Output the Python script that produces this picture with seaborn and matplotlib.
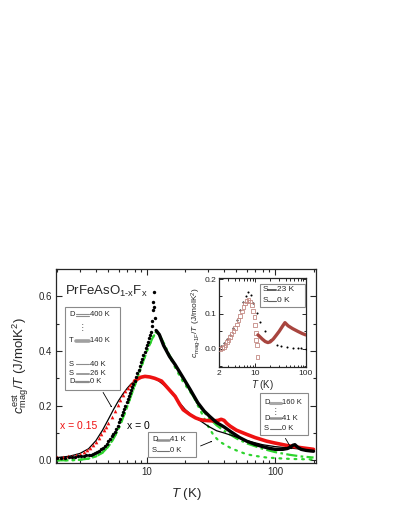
import numpy as np
import pandas as pd
import matplotlib
matplotlib.use("Agg")
import matplotlib.pyplot as plt
import seaborn as sns
from matplotlib.lines import Line2D
from matplotlib.patches import Rectangle, FancyArrowPatch
from matplotlib.ticker import LogLocator, FuncFormatter, MultipleLocator, NullFormatter, FormatStrFormatter

# ---------------- data ----------------
# x = 0 : dots below ~12 K
T0_dots = [2.0, 2.15, 2.3, 2.45, 2.6, 2.75, 2.9, 3.05, 3.2, 3.35, 3.5, 3.65, 3.8, 3.95, 4.1, 4.25,
           4.4, 4.55, 4.7, 4.85, 5.0, 5.15, 5.3, 5.45, 5.6, 5.75, 5.9, 6.05, 6.2, 6.35, 6.5, 6.65,
           6.8, 6.95, 7.1, 7.25, 7.4, 7.55, 7.7, 7.85, 8.0, 8.2, 8.4, 8.6, 8.8, 9.0, 9.2, 9.4, 9.6,
           9.8, 10.0, 10.2, 10.4, 10.6, 10.8, 10.9, 11.0, 11.1, 11.2, 11.3, 11.45, 11.6]
c0_dots = [0.008, 0.009, 0.010, 0.011, 0.012, 0.013, 0.014, 0.015, 0.016, 0.018, 0.019, 0.021,
           0.023, 0.026, 0.030, 0.034, 0.040, 0.046, 0.053, 0.061, 0.069, 0.078, 0.087, 0.096,
           0.105, 0.115, 0.127, 0.140, 0.152, 0.164, 0.176, 0.188, 0.200, 0.212, 0.224, 0.236,
           0.247, 0.258, 0.269, 0.280, 0.290, 0.304, 0.318, 0.332, 0.345, 0.358, 0.371, 0.384,
           0.397, 0.410, 0.422, 0.434, 0.446, 0.458, 0.470, 0.490, 0.510, 0.550, 0.580, 0.615,
           0.560, 0.520]
# x = 0 : dense data above ~12 K
T0_line = [11.8, 12.5, 13.5, 15, 16.6, 19, 21.7, 25, 28, 31, 35, 40, 45, 53, 60, 70, 80, 90, 100,
           115, 125, 132, 138, 143, 150, 160, 175, 200]
c0_line = [0.475, 0.46, 0.42, 0.38, 0.35, 0.305, 0.26, 0.21, 0.18, 0.16, 0.138, 0.122, 0.105,
           0.083, 0.07, 0.058, 0.05, 0.044, 0.04, 0.04, 0.043, 0.048, 0.055, 0.057, 0.048, 0.04,
           0.036, 0.033]
# x = 0.15 : triangles at low T
T15_tri = [2.0, 2.2, 2.4, 2.6, 2.8, 3.0, 3.2, 3.4, 3.6, 3.8, 4.0, 4.2, 4.4, 4.6, 4.8, 5.0, 5.3,
           5.6, 5.9, 6.2, 6.5, 6.8, 7.1, 7.4, 7.7]
c15_tri = [0.012, 0.013, 0.014, 0.016, 0.019, 0.023, 0.029, 0.036, 0.045, 0.056, 0.068, 0.081,
           0.095, 0.109, 0.123, 0.137, 0.160, 0.182, 0.203, 0.222, 0.238, 0.252, 0.264, 0.274,
           0.283]
# x = 0.15 : dense data
T15_line = [8.0, 8.5, 9, 9.65, 10.5, 11.5, 13, 14.5, 16.6, 18, 19.2, 21.7, 24, 26, 28, 30, 33, 36,
            38, 40, 42, 44.6, 50, 60, 70, 86, 100, 131, 160, 200]
c15_line = [0.29, 0.298, 0.304, 0.307, 0.305, 0.30, 0.29, 0.265, 0.234, 0.205, 0.185, 0.167,
            0.155, 0.149, 0.146, 0.145, 0.144, 0.146, 0.15, 0.146, 0.135, 0.125, 0.11, 0.095,
            0.083, 0.07, 0.063, 0.052, 0.046, 0.04]
# thin black model curve (x = 0.15)
T_fit15 = [2, 2.5, 3, 3.5, 4, 4.5, 5, 5.5, 6, 6.5, 7, 7.5, 8, 9, 10, 11, 12, 14, 16, 18, 20, 23,
           26, 30, 35, 40, 50, 60, 80, 100, 150, 200]
c_fit15 = [0.01, 0.015, 0.025, 0.042, 0.072, 0.11, 0.15, 0.187, 0.218, 0.243, 0.263, 0.279, 0.29,
           0.303, 0.307, 0.303, 0.295, 0.27, 0.24, 0.21, 0.185, 0.16, 0.145, 0.125, 0.108, 0.1,
           0.085, 0.072, 0.057, 0.05, 0.042, 0.035]
# green dash-dot model (x = 0)
T_gdash = [2, 2.5, 3, 3.5, 4, 4.5, 5, 5.5, 6, 6.5, 7, 7.5, 8, 9, 10, 11, 11.8, 12.5, 13.5, 15, 17,
           19, 21.7, 25, 30, 35, 40, 50, 60, 80, 100, 130, 160, 200]
c_gdash = [0.0, 0.0, 0.002, 0.006, 0.014, 0.028, 0.05, 0.08, 0.115, 0.155, 0.195, 0.235, 0.27,
           0.34, 0.40, 0.445, 0.47, 0.46, 0.43, 0.385, 0.34, 0.30, 0.255, 0.205, 0.158, 0.128,
           0.108, 0.08, 0.062, 0.042, 0.03, 0.02, 0.014, 0.01]
# green dotted model (x = 0)
T_gdot = [2, 2.5, 3, 3.5, 4, 4.5, 5, 5.5, 6, 6.5, 7, 7.5, 8, 9, 10, 11, 11.8, 12.5, 13.5, 15, 17,
          19, 21, 23, 25, 27.6, 30, 33.3, 37, 44.6, 50, 60, 70, 86, 100, 130, 200]
c_gdot = [0.0, 0.0, 0.002, 0.006, 0.014, 0.028, 0.05, 0.08, 0.115, 0.155, 0.195, 0.235, 0.27,
          0.34, 0.40, 0.445, 0.47, 0.46, 0.425, 0.38, 0.33, 0.29, 0.26, 0.235, 0.2, 0.16, 0.125,
          0.09, 0.068, 0.046, 0.036, 0.022, 0.016, 0.01, 0.008, 0.005, 0.003]

# inset
Ti_dots = [2.0, 2.2, 2.43, 2.8, 3.28, 3.81, 4.43, 5.14, 5.97, 6.7, 7.48, 8.3, 9.36, 10.9, 12.6,
           15.8, 19.8, 26.7, 33, 41.9, 55, 70, 82, 100]
ci_dots = [0.002, 0.008, 0.016, 0.027, 0.04, 0.059, 0.083, 0.111, 0.135, 0.152, 0.164, 0.155,
           0.13, 0.102, 0.078, 0.05, 0.026, 0.011, 0.008, 0.0055, 0.003, 0.002, 0.0014, 0.001]
Ti_sq = [2.1, 2.25, 2.45, 2.65, 2.85, 3.04, 3.25, 3.5, 3.8, 4.1, 4.45, 4.8, 5.15, 5.54, 5.95,
         6.44, 6.9, 7.48, 8.1, 8.69, 9.3, 9.8, 10.1, 10.4, 10.7, 10.9, 11.2]
ci_sq = [0.0, 0.002, 0.006, 0.012, 0.019, 0.026, 0.034, 0.042, 0.051, 0.059, 0.07, 0.082, 0.094,
         0.107, 0.119, 0.13, 0.137, 0.14, 0.136, 0.126, 0.108, 0.092, 0.069, 0.045, 0.025, 0.011,
         -0.024]
Ti_line = [11.5, 12.5, 14, 16, 18, 20, 23, 26, 30, 35, 39, 45, 55, 70, 85, 100]
ci_line = [0.04, 0.035, 0.028, 0.021, 0.018, 0.02, 0.028, 0.038, 0.05, 0.065, 0.075, 0.066,
           0.058, 0.05, 0.044, 0.04]

# ---------------- style ----------------
sns.set_style("ticks")
plt.rcParams['font.family'] = ['Liberation Sans', 'DejaVu Sans']
plt.rcParams['mathtext.fontset'] = 'custom'
plt.rcParams['mathtext.rm'] = 'Liberation Sans'
plt.rcParams['mathtext.it'] = 'Liberation Sans:italic'
plt.rcParams['mathtext.bf'] = 'Liberation Sans:bold'
plt.rcParams['axes.linewidth'] = 0.9

W, H = 399, 516
fig = plt.figure(figsize=(W / 100, H / 100), dpi=100)


def P(x, y):
    return (x / W, 1 - y / H)


GREEN = "#2ed42e"
RED = "#ee1111"
BROWN = "#a8453f"
SQ = "#c48a84"

ax = fig.add_axes([56 / W, 1 - 463 / H, (316 - 56) / W, (463 - 269) / H])

sns.lineplot(x=T_gdot, y=c_gdot, ax=ax, color=GREEN, lw=1.6, linestyle=(0, (0.8, 2.6)),
             dash_capstyle='round', zorder=2)
sns.lineplot(x=T_gdash, y=c_gdash, ax=ax, color=GREEN, lw=1.6, linestyle=(0, (5, 1.5, 1.2, 1.5)),
             zorder=3)
sns.lineplot(x=T_fit15, y=c_fit15, ax=ax, color="black", lw=0.9, zorder=4)
sns.scatterplot(x=T15_tri, y=c15_tri, ax=ax, color=RED, marker="^", s=7, linewidth=0, zorder=5)
sns.lineplot(x=T15_line, y=c15_line, ax=ax, color=RED, lw=2.6, zorder=6)
sns.scatterplot(x=T0_dots, y=c0_dots, ax=ax, color="black", marker="o", s=6, linewidth=0, zorder=7)
sns.lineplot(x=T0_line, y=c0_line, ax=ax, color="black", lw=2.4, zorder=7)

ax.set_xscale('log')
ax.set_xlim(1.95, 209)
ax.set_ylim(-0.01, 0.70)
ax.xaxis.set_major_locator(LogLocator(base=10))
ax.xaxis.set_minor_locator(LogLocator(base=10, subs=np.arange(2, 10)))
ax.xaxis.set_major_formatter(FuncFormatter(lambda v, p: f"{v:g}"))
ax.xaxis.set_minor_formatter(NullFormatter())
ax.yaxis.set_major_locator(MultipleLocator(0.2))
ax.yaxis.set_minor_locator(MultipleLocator(0.1))
ax.yaxis.set_major_formatter(FormatStrFormatter("%.1f"))
ax.tick_params(which='both', direction='in', top=True, right=True, labelsize=7, width=0.8, pad=3)
ax.tick_params(which='major', length=4)
ax.tick_params(which='minor', length=2)
ax.set_xlabel("$T$ (K)", fontsize=9.5, labelpad=6)
ax.set_ylabel("$c^{\\mathregular{est}}_{\\mathregular{mag}}/T$ (J/molK$^{\\mathregular{2}}$)",
              fontsize=9.5, labelpad=5)

ax.text(*P(65, 295), "PrFeAsO$_{\\mathregular{1\\text{-}x}}$F$_{\\mathregular{x}}$",
        transform=fig.transFigure, fontsize=9.5, ha='left', va='baseline')
ax.text(*P(60, 429), "x = 0.15", transform=fig.transFigure, fontsize=7.5, color=RED,
        ha='left', va='baseline')
ax.text(*P(127, 429), "x = 0", transform=fig.transFigure, fontsize=7.5, color="black",
        ha='left', va='baseline')


# ---------------- key boxes ----------------
def key_box(x0, y0, x1, y1, rows, xl, xs0, xs1, xt, fs=5.5):
    fig.add_artist(Rectangle(P(x0, y1), (x1 - x0) / W, (y1 - y0) / H, transform=fig.transFigure,
                             facecolor="white", edgecolor="#8a8a8a", lw=0.8, zorder=20))
    for letter, lab, y, lw, col, dbl in rows:
        if letter == ":":
            fig.text(*P((xs0 + xs1) / 2, y), "\u22ee", fontsize=fs, ha='center', va='center',
                     color="#444444", zorder=21, family=['DejaVu Sans'])
            continue
        fig.text(*P(xl, y), letter, fontsize=fs, ha='left', va='center', zorder=21)
        if dbl:
            for dy in (-0.8, 0.8):
                fig.add_artist(Line2D([xs0 / W, xs1 / W], [1 - (y + dy) / H] * 2, color=col,
                                      lw=lw, transform=fig.transFigure, zorder=21))
        else:
            fig.add_artist(Line2D([xs0 / W, xs1 / W], [1 - y / H] * 2, color=col, lw=lw,
                                  transform=fig.transFigure, zorder=21))
        fig.text(*P(xt, y), lab, fontsize=fs, ha='left', va='center', zorder=21)


key_box(65, 307, 120, 390,
        [("D", "400 K", 315, 0.8, "#8c8c8c", True),
         (":", "", 327.5, 0, "", False),
         ("T", "140 K", 341, 2.6, "#a0a0a0", False),
         ("S", "40 K", 364.3, 0.8, "#8c8c8c", False),
         ("S", "26 K", 373.3, 0.6, "#8c8c8c", True),
         ("D", "0 K", 381.7, 1.6, "#8c8c8c", False)],
        xl=69, xs0=75.5, xs1=88.5, xt=89.5)
key_box(148, 432, 196, 457,
        [("D", "41 K", 439.5, 1.8, "#909090", False),
         ("S", "0 K", 450.5, 0.8, "#707070", False)],
        xl=152, xs0=156.5, xs1=168.5, xt=170)
key_box(260, 393, 308, 435,
        [("D", "160 K", 402.7, 2.2, "#a8a8a8", False),
         (":", "", 411.5, 0, "", False),
         ("D", "41 K", 418, 1.8, "#909090", False),
         ("S", "0 K", 429, 0.8, "#707070", False)],
        xl=264, xs0=269.5, xs1=280.5, xt=281.5)

arrow_kw = dict(arrowstyle="-|>,head_length=0.35,head_width=0.15", lw=0.6, color="black")
for (xa, ya), (xb, yb) in [((101.7, 390), (113.3, 410)), ((198, 447), (215, 440)),
                           ((284, 436), (293.5, 452))]:
    fig.add_artist(FancyArrowPatch(P(xa, ya), P(xb, yb), transform=fig.transFigure,
                                   zorder=22, **arrow_kw))

# ---------------- inset ----------------
ax2 = fig.add_axes([219 / W, 1 - 367 / H, 87 / W, 89 / H], zorder=10)
ax2.set_facecolor("white")
sns.scatterplot(x=Ti_dots, y=ci_dots, ax=ax2, color="black", marker="o", s=2.2, linewidth=0,
                zorder=3)
sns.scatterplot(x=Ti_sq, y=ci_sq, ax=ax2, marker="s", s=7, facecolor="none", edgecolor=SQ,
                linewidth=0.6, zorder=4)
sns.lineplot(x=Ti_line, y=ci_line, ax=ax2, color=BROWN, lw=2.4, zorder=5)
ax2.set_xscale('log')
ax2.set_xlim(1.98, 101)
ax2.set_ylim(-0.052, 0.203)
ax2.xaxis.set_major_locator(LogLocator(base=10))
ax2.xaxis.set_minor_locator(LogLocator(base=10, subs=np.arange(2, 10)))
ax2.xaxis.set_major_formatter(FuncFormatter(lambda v, p: f"{v:g}"))
ax2.xaxis.set_minor_formatter(NullFormatter())
ax2.set_xticks([2, 10, 100])
ax2.yaxis.set_major_locator(MultipleLocator(0.1))
ax2.yaxis.set_minor_locator(MultipleLocator(0.05))
ax2.yaxis.set_major_formatter(FormatStrFormatter("%.1f"))
ax2.tick_params(which='both', direction='in', top=True, right=True, labelsize=6, width=0.7, pad=2)
ax2.tick_params(which='major', length=3)
ax2.tick_params(which='minor', length=1.8)
ax2.set_xlabel("$T$ (K)", fontsize=7, labelpad=1)
ax2.set_ylabel("$c_{\\mathregular{mag\\text{-}1F}}/T$ (J/molK$^{\\mathregular{2}}$)", fontsize=6,
               labelpad=1)

key_box(260, 283.5, 305, 306.5,
        [("S", "23 K", 289.5, 1.4, "#606060", False),
         ("S", "0 K", 300.5, 0.8, "#606060", False)],
        xl=263, xs0=268, xs1=275.5, xt=277, fs=6)

fig.savefig("out.png", dpi=100)
